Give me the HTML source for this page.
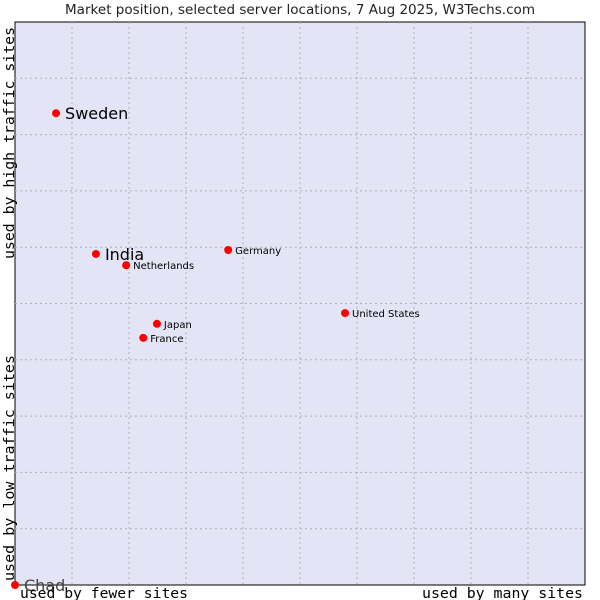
<!DOCTYPE html>
<html><head><meta charset="utf-8"><style>
body{margin:0;background:#fff;}
svg{display:block;}
</style></head><body>
<svg id="chart" width="600" height="600" xmlns="http://www.w3.org/2000/svg">
<text x="65" y="14" textLength="470" lengthAdjust="spacingAndGlyphs" font-family="DejaVu Sans, sans-serif" font-size="13" fill="#222">Market position, selected server locations, 7 Aug 2025, W3Techs.com</text>
<rect x="15" y="22" width="570" height="563" fill="#e3e5f7" stroke="#000" stroke-width="1"/>
<g id="grid"></g>
<g id="points"></g>
<text x="20" y="598" textLength="168" lengthAdjust="spacingAndGlyphs" font-family="DejaVu Sans Mono, Liberation Mono, monospace" font-size="14.5" fill="#000">used by fewer sites</text>
<text x="422" y="598" textLength="161" lengthAdjust="spacingAndGlyphs" font-family="DejaVu Sans Mono, Liberation Mono, monospace" font-size="14.5" fill="#000">used by many sites</text>
<text transform="translate(14,581) rotate(-90)" textLength="226" lengthAdjust="spacingAndGlyphs" font-family="DejaVu Sans Mono, Liberation Mono, monospace" font-size="14.5" fill="#000">used by low traffic sites</text>
<text transform="translate(14,259) rotate(-90)" textLength="232" lengthAdjust="spacingAndGlyphs" font-family="DejaVu Sans Mono, Liberation Mono, monospace" font-size="14.5" fill="#000">used by high traffic sites</text>
</svg>
<script>
const countries = ["Sweden","India","Netherlands","Germany","United States","Japan","France","Chad"];
const xValues = [0.72,1.42,1.95,3.74,5.79,2.49,2.25,0];
const yValues = [8.38,5.88,5.68,5.95,4.83,4.64,4.39,0];
const bigLabel = [true,true,false,false,false,false,false,true];
const gridTicks = [1,2,3,4,5,6,7,8,9];
const NS="http://www.w3.org/2000/svg";
function sx(v){return 15+v*57;}
function sy(v){return 585-v*56.3;}
const grid=document.getElementById('grid');
gridTicks.forEach(t=>{
  const v=document.createElementNS(NS,'line');
  v.setAttribute('x1',sx(t));v.setAttribute('x2',sx(t));v.setAttribute('y1',22);v.setAttribute('y2',585);
  v.setAttribute('stroke','#b0b0b0');v.setAttribute('stroke-dasharray','2,3');
  
  
  grid.appendChild(v);
  const h=document.createElementNS(NS,'line');
  h.setAttribute('x1',15);h.setAttribute('x2',585);h.setAttribute('y1',sy(t));h.setAttribute('y2',sy(t));
  h.setAttribute('stroke','#b0b0b0');h.setAttribute('stroke-dasharray','2,3');
  
  
  grid.appendChild(h);
});
const pts=document.getElementById('points');
countries.forEach((c,i)=>{
  const x=sx(xValues[i]),y=sy(yValues[i]);
  const d=document.createElementNS(NS,'circle');
  d.setAttribute('cx',x);d.setAttribute('cy',y);d.setAttribute('r',4);d.setAttribute('fill','#f00');
  
  
  pts.appendChild(d);
  const t=document.createElementNS(NS,'text');
  t.setAttribute('x',x+(bigLabel[i]?9:7));
  t.setAttribute('y',y+(bigLabel[i]?6:4));
  t.setAttribute('font-family','DejaVu Sans, sans-serif');
  t.setAttribute('font-size',bigLabel[i]?16:10);
  t.setAttribute('fill',i===7?'#444':'#000');
  t.textContent=c;
  
  
  pts.appendChild(t);
});
</script>
</body></html>
